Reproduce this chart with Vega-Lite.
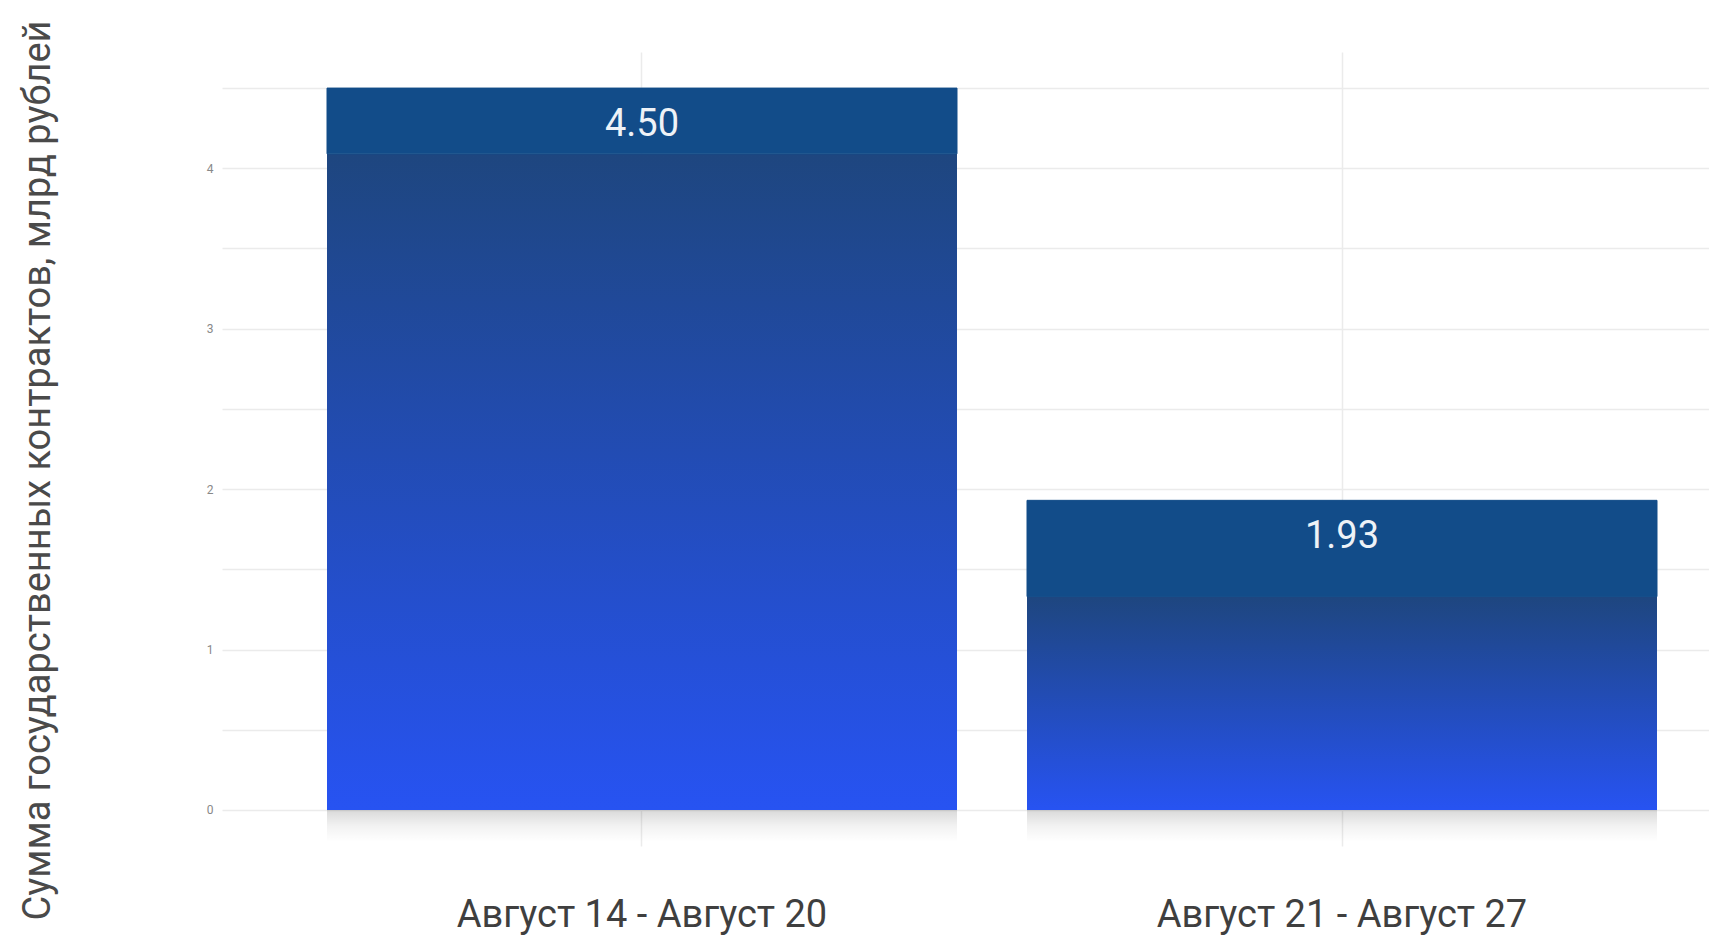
{
  "$schema": "https://vega.github.io/schema/vega-lite/v6.json",
  "description": "Сумма государственных контрактов по неделям, млрд рублей",
  "width": 1487,
  "height": 794,
  "autosize": "none",
  "padding": {"left": 222, "top": 52, "right": 0, "bottom": 92},
  "background": "white",
  "config": {
    "view": {"stroke": null},
    "font": "Roboto",
    "axisY": {
      "domain": false,
      "ticks": false,
      "grid": true,
      "gridColor": "#ebebeb",
      "gridWidth": 1.5,
      "labelFont": "Roboto",
      "labelFontSize": 12,
      "labelColor": "#888888",
      "labelPadding": 9,
      "labelOverlap": false,
      "titleFont": "Roboto",
      "titleFontSize": 38,
      "titleFontWeight": "normal",
      "titleColor": "#4a4a4a",
      "titleAngle": -90,
      "titleAlign": "center",
      "titleBaseline": "middle",
      "titleX": -184,
      "titleY": 418
    }
  },
  "data": {
    "values": [
      {"period": "Август 14 - Август 20", "value": 4.5, "split": 4.09},
      {"period": "Август 21 - Август 27", "value": 1.93, "split": 1.33}
    ]
  },
  "encoding": {
    "x": {
      "field": "period",
      "type": "nominal",
      "sort": null,
      "scale": {"range": [0, 1540], "paddingInner": 0.1, "paddingOuter": 0.15},
      "axis": {
        "title": null,
        "domain": false,
        "ticks": false,
        "grid": true,
        "bandPosition": 0.5,
        "gridColor": "#ebebeb",
        "gridWidth": 1.5,
        "labelFont": "Roboto",
        "labelFontSize": 38,
        "labelFontWeight": "normal",
        "labelColor": "#3f3f3f",
        "labelPadding": 50,
        "labelAngle": 0,
        "labelLimit": 0
      }
    }
  },
  "layer": [
    {
      "mark": {
        "type": "bar",
        "color": {
          "gradient": "linear",
          "x1": 0, "y1": 0, "x2": 0, "y2": 1,
          "stops": [
            {"offset": 0, "color": "rgba(0,0,0,0.15)"},
            {"offset": 0.5, "color": "rgba(0,0,0,0.05)"},
            {"offset": 1, "color": "rgba(0,0,0,0)"}
          ]
        }
      },
      "encoding": {
        "y": {
          "datum": 0,
          "type": "quantitative",
          "title": "Сумма государственных контрактов, млрд рублей"
        },
        "y2": {"datum": -0.2}
      }
    },
    {
      "mark": {
        "type": "bar",
        "color": {
          "gradient": "linear",
          "x1": 0, "y1": 0, "x2": 0, "y2": 1,
          "stops": [
            {"offset": 0, "color": "#1e467f"},
            {"offset": 1, "color": "#2753f2"}
          ]
        }
      },
      "encoding": {
        "y": {
          "field": "split",
          "type": "quantitative",
          "title": "Сумма государственных контрактов, млрд рублей",
          "scale": {"domain": [-0.225, 4.725], "nice": false, "zero": false},
          "axis": {
            "values": [0, 0.5, 1, 1.5, 2, 2.5, 3, 3.5, 4, 4.5],
            "labelExpr": "datum.value % 1 === 0 ? format(datum.value, 'd') : ''"
          }
        },
        "y2": {"datum": 0}
      }
    },
    {
      "mark": {"type": "bar", "color": "#124c89", "stroke": "#124c89", "strokeWidth": 1},
      "encoding": {
        "y": {
          "field": "value",
          "type": "quantitative",
          "title": "Сумма государственных контрактов, млрд рублей"
        },
        "y2": {"field": "split"}
      }
    },
    {
      "mark": {
        "type": "text",
        "dy": 37,
        "fontSize": 38,
        "font": "Roboto",
        "color": "#eef2f7",
        "baseline": "middle"
      },
      "encoding": {
        "y": {
          "field": "value",
          "type": "quantitative",
          "title": "Сумма государственных контрактов, млрд рублей"
        },
        "text": {"field": "value", "type": "quantitative", "format": ".2f"}
      }
    }
  ]
}
